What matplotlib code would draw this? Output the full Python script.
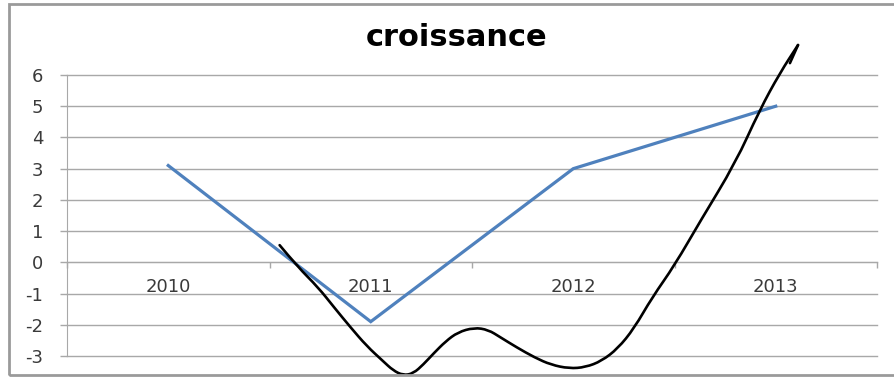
import numpy as np
import matplotlib
matplotlib.use("Agg")
from matplotlib import pyplot as plt
from matplotlib.patches import Rectangle, PathPatch
from matplotlib.path import Path
from matplotlib.ticker import FixedLocator

plt.rcParams["axes.unicode_minus"] = False

# données
annees = ["2010", "2011", "2012", "2013"]
croissance = [3.1, -1.9, 3.0, 5.0]

# trait à main levée (position en catégorie, valeur)
trait_x = [0.55, 0.64, 0.74, 0.82, 0.90, 0.98, 1.06, 1.11, 1.16, 1.21, 1.26, 1.31,
           1.37, 1.43, 1.51, 1.58, 1.64, 1.72, 1.81, 1.89, 1.98, 2.06, 2.14,
           2.22, 2.30, 2.39, 2.50, 2.63, 2.80, 2.92, 3.02, 3.11]
trait_y = [0.55, -0.15, -0.80, -1.45, -2.08, -2.68, -3.16, -3.46, -3.62, -3.56, -3.27, -2.92,
           -2.53, -2.24, -2.09, -2.16, -2.40, -2.72, -3.05, -3.28, -3.40, -3.36, -3.16,
           -2.76, -2.12, -1.12, -0.10, 1.35, 3.17, 4.87, 6.06, 6.96]
fleche_x = [3.07, 3.11]
fleche_y = [6.38, 6.96]

gris = "#a8a8a8"
texte = "#3a3a3a"

fig = plt.figure(figsize=(8.94, 3.78), dpi=100)
ax = fig.add_axes([67/894, 1 - 356/378, (877 - 67)/894, (356 - 75)/378])

x = np.arange(len(annees))
ax.plot(x, croissance, color="#4F81BD", lw=2.3, solid_joinstyle="miter", zorder=3)

# courbe lissée : arcs quadratiques passant par les milieux des points lus
pts = np.column_stack([trait_x, trait_y])
verts = [pts[0]]
codes = [Path.MOVETO]
for i in range(1, len(pts) - 1):
    verts += [pts[i], (pts[i] + pts[i + 1]) / 2]
    codes += [Path.CURVE3, Path.CURVE3]
verts.append(pts[-1])
codes.append(Path.LINETO)
ax.add_patch(PathPatch(Path(verts, codes), fill=False, ec="black", lw=1.9,
                       capstyle="round", joinstyle="round", clip_on=False, zorder=4))
ax.plot(fleche_x, fleche_y, color="black", lw=1.9, solid_capstyle="round",
        clip_on=False, zorder=4)

ax.set_xlim(-0.5, 3.5)
ax.set_ylim(-3, 6)

for s in ["top", "right"]:
    ax.spines[s].set_visible(False)
ax.spines["left"].set_color(gris)
ax.spines["bottom"].set_color(gris)
ax.spines["bottom"].set_position(("data", 0))

ax.set_yticks(range(-3, 7))
ax.tick_params(axis="y", length=5, width=1, color=gris, pad=12,
               labelsize=13, labelcolor=texte)
ax.yaxis.grid(True, color=gris, lw=1.0)
for ligne in ax.get_ygridlines():
    ligne.set_clip_on(False)
ax.set_axisbelow(True)

ax.set_xticks(x)
ax.set_xticklabels(annees)
ax.xaxis.set_minor_locator(FixedLocator(np.arange(-0.5, 4, 1)))
ax.tick_params(axis="x", which="major", length=0, pad=11, labelsize=13, labelcolor=texte)
ax.tick_params(axis="x", which="minor", length=4, width=1, color=gris)

fig.text(457/894, 1 - 46/378, "croissance", ha="center", va="baseline",
         fontsize=22, fontweight="bold", color="black")

# cadre du graphique
fig.add_artist(Rectangle((9/894, 3/378), 1.05, 1 - 7/378, transform=fig.transFigure,
                         fill=False, ec="#9a9a9a", lw=2))

fig.savefig("out.png", dpi=100)
